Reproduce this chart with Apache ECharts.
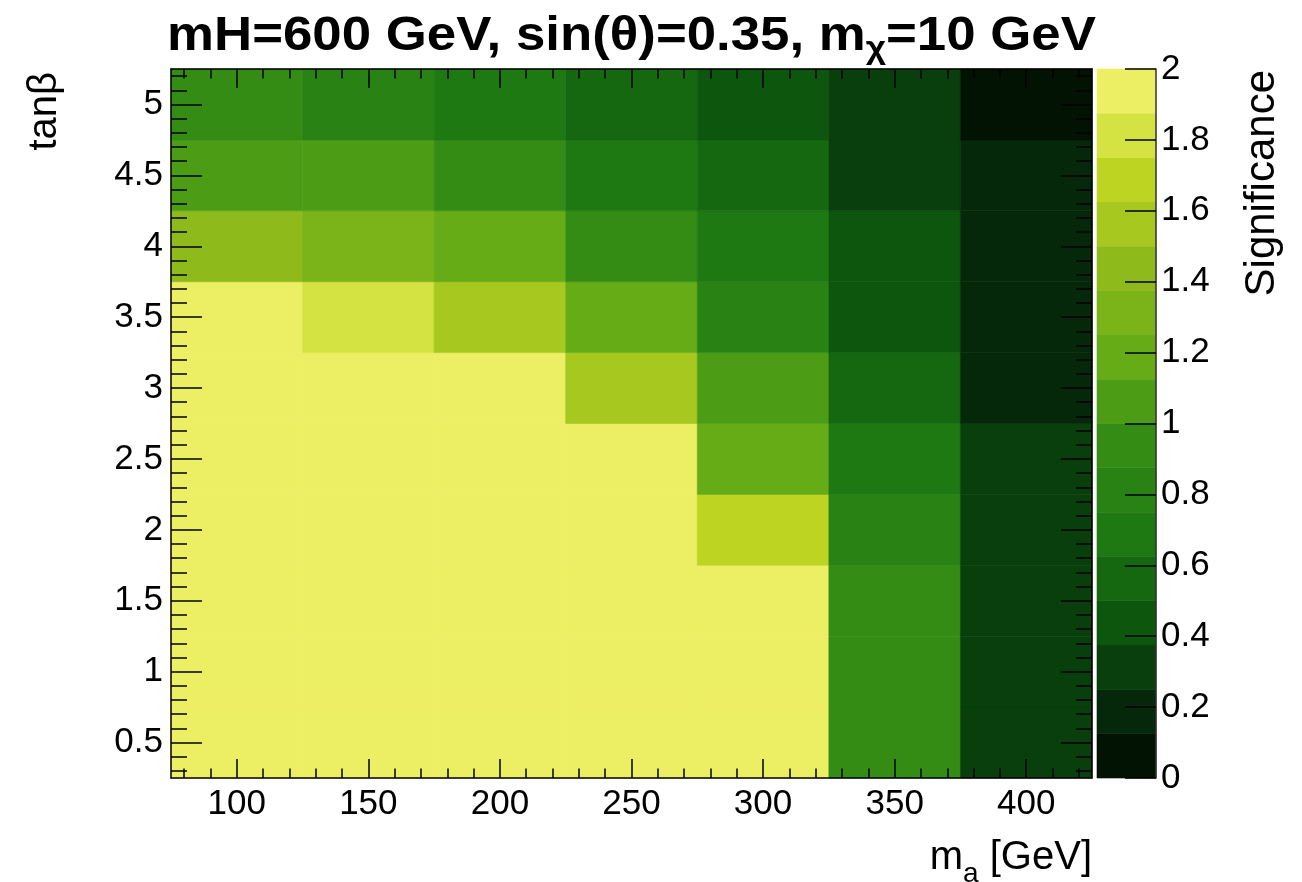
<!DOCTYPE html>
<html>
<head>
<meta charset="utf-8">
<script src="https://cdn.jsdelivr.net/npm/echarts@6/dist/echarts.min.js"></script>
<style>
  html, body { margin: 0; padding: 0; background: #ffffff; }
  #chart { width: 1302px; height: 882px; }
</style>
</head>
<body>
<div id="chart"></div>
<script>
// Bin centres of the scan
const massA = [100, 150, 200, 250, 300, 350, 400];            // m_a [GeV]
const tanBeta = [0.5, 1, 1.5, 2, 2.5, 3, 3.5, 4, 4.5, 5];       // tanβ

// Significance per bin: one row per tanβ (bottom to top), one column per m_a
const significance = [
  [2.00, 2.00, 2.00, 2.00, 1.96, 0.93, 0.31],   // tanβ = 0.5
  [2.00, 2.00, 2.00, 2.00, 1.95, 0.92, 0.30],   // tanβ = 1
  [2.00, 2.00, 2.00, 2.00, 1.90, 0.91, 0.29],   // tanβ = 1.5
  [2.00, 2.00, 2.00, 2.00, 1.69, 0.81, 0.28],   // tanβ = 2
  [2.00, 2.00, 2.00, 1.93, 1.18, 0.69, 0.27],   // tanβ = 2.5
  [2.00, 2.00, 1.95, 1.57, 1.06, 0.56, 0.19],   // tanβ = 3
  [1.92, 1.81, 1.55, 1.19, 0.82, 0.44, 0.18],   // tanβ = 3.5
  [1.44, 1.31, 1.18, 0.94, 0.69, 0.43, 0.17],   // tanβ = 4
  [1.07, 1.05, 0.93, 0.68, 0.56, 0.32, 0.16],   // tanβ = 4.5
  [0.95, 0.80, 0.68, 0.57, 0.45, 0.30, 0.06]    // tanβ = 5
];

// Axis tick labels
const xTickLabels = [100, 150, 200, 250, 300, 350, 400];
const yTickLabels = [0.5, 1, 1.5, 2, 2.5, 3, 3.5, 4, 4.5, 5];

// Colour scale: z range and number of contour levels
const zMin = 0, zMax = 2, nContours = 16;

// "Avocado" gradient stops
const stopPos   = [0.0, 0.125, 0.25, 0.375, 0.5, 0.625, 0.75, 0.875, 1.0];
const stopRed   = [0, 4, 12, 30, 52, 101, 142, 190, 237];
const stopGreen = [0, 40, 86, 121, 140, 172, 187, 213, 240];
const stopBlue  = [0, 9, 14, 18, 21, 23, 27, 35, 101];

const FONT = "'Liberation Sans', Arial, Helvetica, sans-serif";

// Build a 255-entry gradient table from the stops
function buildPalette(nColors) {
  const table = [];
  for (let g = 1; g < stopPos.length; g++) {
    const start = Math.floor(nColors * stopPos[g - 1]);
    const n = Math.floor(nColors * stopPos[g]) - start;
    for (let c = 0; c < n; c++) {
      const r = stopRed[g - 1] + c * (stopRed[g] - stopRed[g - 1]) / n;
      const gr = stopGreen[g - 1] + c * (stopGreen[g] - stopGreen[g - 1]) / n;
      const b = stopBlue[g - 1] + c * (stopBlue[g] - stopBlue[g - 1]) / n;
      table.push('rgb(' + Math.round(r) + ',' + Math.round(gr) + ',' + Math.round(b) + ')');
    }
  }
  return table;
}
const palette = buildPalette(255);

// One colour per contour band
const step = (zMax - zMin) / nContours;
const pieces = [];
const bands = [];
for (let i = 0; i < nContours; i++) {
  const idx = Math.min(palette.length - 1, Math.floor((i + 0.99) * palette.length / nContours));
  const lo = zMin + i * step, hi = zMin + (i + 1) * step;
  const piece = { color: palette[idx] };
  if (i > 0) piece.gte = lo;
  if (i < nContours - 1) piece.lt = hi;
  pieces.push(piece);
  bands.push([lo, hi, (lo + hi) / 2]);
}

// Cells of the map
const cells = [];
tanBeta.forEach((tb, j) => {
  massA.forEach((ma, i) => cells.push([ma, tb, significance[j][i]]));
});
const halfX = (massA[1] - massA[0]) / 2;
const halfY = (tanBeta[1] - tanBeta[0]) / 2;
const xMin = massA[0] - halfX, xMax = massA[massA.length - 1] + halfX;
const yMin = tanBeta[0] - halfY, yMax = tanBeta[tanBeta.length - 1] + halfY;

// Minor tick positions (5 subdivisions between labelled ticks)
const xMinor = [], yMinor = [];
for (let v = 80; v <= 420; v += 10) xMinor.push(v);
for (let k = 3; k <= 52; k++) yMinor.push(k / 10);

const black = '#000000';
function tickAxis(base, ticks, len, withLine, withLabels, labelOpts) {
  return Object.assign({
    type: 'value',
    z: 10,
    splitLine: { show: false },
    axisLine: { show: withLine, onZero: false, lineStyle: { color: black, width: 1.5 } },
    axisTick: { show: true, inside: true, length: len, customValues: ticks,
                lineStyle: { color: black, width: 1.5 } },
    axisLabel: withLabels
      ? Object.assign({ customValues: ticks, color: black, fontSize: 35, fontFamily: FONT }, labelOpts)
      : { show: false }
  }, base);
}

const chart = echarts.init(document.getElementById('chart'), null, { renderer: 'canvas' });

chart.setOption({
  animation: false,
  backgroundColor: '#ffffff',
  grid: [
    { left: 171, top: 69, width: 921, height: 709 },
    { left: 1097, top: 69, width: 59, height: 709 }
  ],
  xAxis: [
    tickAxis({ gridIndex: 0, min: xMin, max: xMax, position: 'bottom' }, xTickLabels, 19, true, true, { margin: 9 }),
    tickAxis({ gridIndex: 0, min: xMin, max: xMax, position: 'bottom' }, xMinor, 9.5, false, false),
    tickAxis({ gridIndex: 0, min: xMin, max: xMax, position: 'top' }, xTickLabels, 19, true, false),
    tickAxis({ gridIndex: 0, min: xMin, max: xMax, position: 'top' }, xMinor, 9.5, false, false),
    { type: 'value', gridIndex: 1, min: 0, max: 1, show: false }
  ],
  yAxis: [
    tickAxis({ gridIndex: 0, min: yMin, max: yMax, position: 'left' }, yTickLabels, 31, true, true, { margin: 8 }),
    tickAxis({ gridIndex: 0, min: yMin, max: yMax, position: 'left' }, yMinor, 16, false, false),
    tickAxis({ gridIndex: 0, min: yMin, max: yMax, position: 'right' }, yTickLabels, 31, true, false),
    tickAxis({ gridIndex: 0, min: yMin, max: yMax, position: 'right' }, yMinor, 16, false, false),
    {
      type: 'value', gridIndex: 1, min: zMin, max: zMax, interval: 0.2, position: 'right', z: 10,
      splitLine: { show: false },
      axisLine: { show: true, onZero: false, lineStyle: { color: '#333333', width: 1.5 } },
      axisTick: { show: true, inside: true, length: 31, lineStyle: { color: black, width: 1.5 } },
      axisLabel: { color: black, fontSize: 35, fontFamily: FONT, margin: 5 }
    }
  ],
  visualMap: {
    type: 'piecewise',
    show: false,
    dimension: 2,
    seriesIndex: [0, 1],
    pieces: pieces
  },
  series: [
    {
      type: 'custom',
      name: 'Significance',
      xAxisIndex: 0,
      yAxisIndex: 0,
      data: cells,
      renderItem: function (params, api) {
        const x = api.value(0), y = api.value(1);
        const p0 = api.coord([x - halfX, y + halfY]);
        const p1 = api.coord([x + halfX, y - halfY]);
        const color = api.visual('color');
        return {
          type: 'rect',
          shape: { x: p0[0], y: p0[1], width: p1[0] - p0[0], height: p1[1] - p0[1] },
          style: { fill: color, stroke: color, lineWidth: 0.6 }
        };
      }
    },
    {
      type: 'custom',
      name: 'palette',
      xAxisIndex: 4,
      yAxisIndex: 4,
      data: bands,
      renderItem: function (params, api) {
        const p0 = api.coord([0, api.value(1)]);
        const p1 = api.coord([1, api.value(0)]);
        const color = api.visual('color');
        return {
          type: 'rect',
          shape: { x: p0[0], y: p0[1], width: p1[0] - p0[0], height: p1[1] - p0[1] },
          style: { fill: color, stroke: color, lineWidth: 0.6 }
        };
      }
    }
  ],
  graphic: [
    {
      type: 'text', x: 631.5, y: 37, z: 20, scaleX: 1.1,
      style: {
        text: '{b|mH=600 GeV, sin(θ)=0.35, m}{s|χ}{b|=10 GeV}',
        align: 'center', verticalAlign: 'middle',
        rich: {
          b: { fontSize: 48, fontWeight: 'bold', fontFamily: FONT, fill: black, lineHeight: 52 },
          s: { fontSize: 32, fontWeight: 'bold', fontFamily: FONT, fill: black, lineHeight: 10,
               verticalAlign: 'top', padding: [22, 0, 0, 0] }
        }
      }
    },
    {
      type: 'text', x: 1092, y: 858, z: 20,
      style: {
        text: '{r|m}{s|a}{r| [GeV]}',
        align: 'right', verticalAlign: 'middle',
        rich: {
          r: { fontSize: 40, fontFamily: FONT, fill: black, lineHeight: 44 },
          s: { fontSize: 28, fontFamily: FONT, fill: black, lineHeight: 10,
               verticalAlign: 'top', padding: [24, 0, 0, 0] }
        }
      }
    },
    {
      type: 'text', x: 45, y: 72, rotation: Math.PI / 2, z: 20,
      style: { text: 'tanβ', fontSize: 40, fontFamily: FONT, fill: black, align: 'right', verticalAlign: 'middle' }
    },
    {
      type: 'text', x: 1262, y: 70, rotation: Math.PI / 2, z: 20,
      style: { text: 'Significance', fontSize: 42, fontFamily: FONT, fill: black, align: 'right', verticalAlign: 'middle' }
    }
  ]
});
</script>
</body>
</html>
